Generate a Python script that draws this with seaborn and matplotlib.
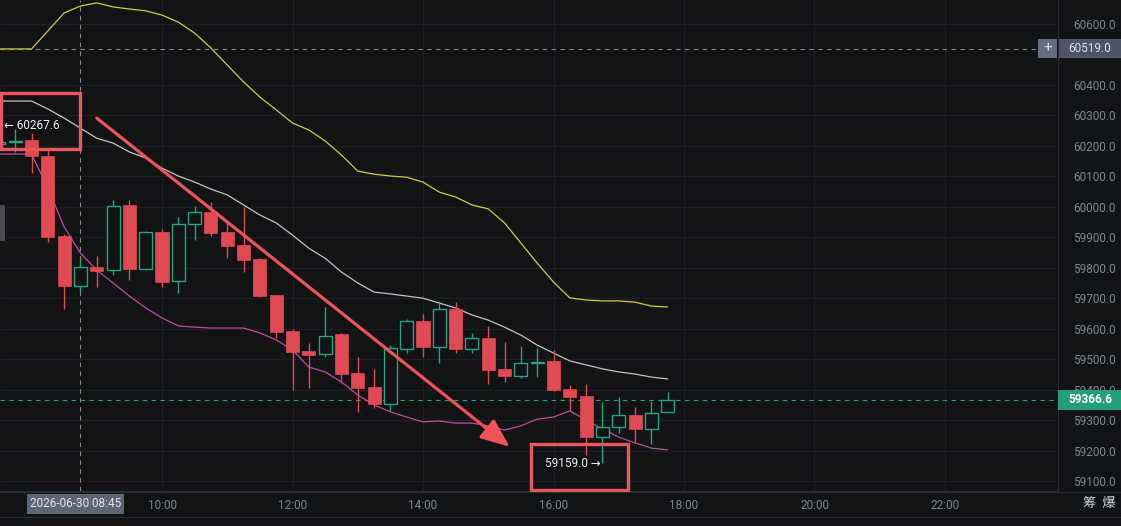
import matplotlib
matplotlib.use('Agg')
import matplotlib.pyplot as plt
from matplotlib.patches import Rectangle
from matplotlib.lines import Line2D
import pandas as pd
import seaborn as sns

# 15-minute candles
times = ['07:30', '07:45', '08:00', '08:15', '08:30', '08:45', '09:00', '09:15', '09:30', '09:45',
         '10:00', '10:15', '10:30', '10:45', '11:00', '11:15', '11:30', '11:45', '12:00', '12:15',
         '12:30', '12:45', '13:00', '13:15', '13:30', '13:45', '14:00', '14:15', '14:30', '14:45',
         '15:00', '15:15', '15:30', '15:45', '16:00', '16:15', '16:30', '16:45', '17:00', '17:15',
         '17:30', '17:45']
opens = [60207, 60212, 60219, 60167, 59904, 59740, 59802, 59792, 60006, 59796,
         59917, 59756, 59943, 59983, 59917, 59875, 59829, 59710, 59592, 59527,
         59517, 59582, 59454, 59408, 59353, 59533, 59625, 59540, 59665, 59533,
         59569, 59468, 59445, 59487, 59494, 59402, 59379, 59244, 59277, 59317,
         59271, 59326]
highs = [60230, 60255, 60242, 60186, 59910, 59832, 59838, 60022, 60022, 59920,
         59927, 59966, 60003, 60016, 59947, 59999, 59832, 59712, 59599, 59553,
         59671, 59585, 59507, 59468, 59546, 59632, 59648, 59691, 59687, 59586,
         59609, 59556, 59543, 59536, 59530, 59415, 59418, 59359, 59376, 59343,
         59363, 59392]
lows = [60195, 60180, 60111, 59884, 59665, 59720, 59737, 59776, 59760, 59793,
        59737, 59717, 59891, 59904, 59832, 59786, 59705, 59569, 59399, 59405,
        59507, 59422, 59326, 59340, 59330, 59520, 59507, 59487, 59520, 59520,
        59418, 59425, 59438, 59441, 59395, 59330, 59185, 59159, 59258, 59228,
        59221, 59326]
closes = [60214, 60216, 60167, 59901, 59740, 59802, 59789, 60003, 59796, 59917,
          59753, 59943, 59983, 59914, 59871, 59825, 59707, 59589, 59523, 59514,
          59576, 59451, 59405, 59353, 59537, 59625, 59540, 59665, 59533, 59569,
          59464, 59445, 59487, 59490, 59399, 59376, 59244, 59277, 59317, 59271,
          59323, 59366.6]

band_upper = [60518, 60518, 60518, 60577, 60636, 60659, 60669, 60656, 60649, 60643,
              60629, 60606, 60570, 60521, 60465, 60410, 60360, 60318, 60275, 60252,
              60216, 60170, 60117, 60107, 60101, 60097, 60081, 60048, 60032, 60006,
              59993, 59947, 59881, 59815, 59753, 59701, 59694, 59691, 59691, 59687,
              59674, 59671]
band_mid = [60347, 60347, 60347, 60321, 60291, 60258, 60225, 60209, 60180, 60160,
            60127, 60101, 60081, 60058, 60039, 60006, 59973, 59947, 59907, 59864,
            59831, 59786, 59750, 59720, 59714, 59707, 59700, 59684, 59668, 59645,
            59628, 59605, 59579, 59546, 59520, 59494, 59481, 59468, 59458, 59451,
            59441, 59435]
band_lower = [60173, 60173, 60173, 60062, 59934, 59848, 59792, 59750, 59707, 59668,
              59635, 59609, 59605, 59602, 59602, 59602, 59586, 59563, 59530, 59474,
              59458, 59425, 59382, 59350, 59327, 59310, 59294, 59297, 59290, 59290,
              59281, 59267, 59281, 59303, 59310, 59330, 59300, 59271, 59244, 59225,
              59208, 59202]

hour_ticks = [10, 12, 14, 16, 18, 20, 22]
price_ticks = [59100, 59200, 59300, 59400, 59500, 59600, 59700, 59800, 59900,
               60000, 60100, 60200, 60300, 60400, 60600]
last_price = 59366.6
cross_price = 60519.0
cross_label = '2026-06-30 08:45'
cross_hour = 8.75
high_mark = 60267.6
low_mark = 59159.0
low_hour = 16.75
arrow_from = (9.0, 60291)
arrow_to = (15.33, 59212)

BG = '#121314'
GRID = '#1e2023'
RED = '#e04a52'
GREEN = '#22a77e'
TXT = '#80858e'

sns.set_style('dark', rc={'axes.facecolor': BG, 'figure.facecolor': BG})
plt.rcParams['font.family'] = ['Roboto', 'DejaVu Sans']

W, H = 1121, 526
fig = plt.figure(figsize=(W / 100, H / 100), dpi=100)
ax = fig.add_axes([0, 35 / H, 1058 / W, 491 / H])
ax.set_facecolor(BG)

hours = [int(t[:2]) + int(t[3:]) / 60 for t in times]
df = pd.DataFrame({'hour': hours, 'open': opens, 'high': highs, 'low': lows, 'close': closes,
                   'upper': band_upper, 'mid': band_mid, 'lower': band_lower})

# bands
sns.lineplot(data=df, x='hour', y='upper', ax=ax, color='#cfcf3a', lw=0.9, zorder=2)
sns.lineplot(data=df, x='hour', y='mid', ax=ax, color='#c4c4c4', lw=0.9, zorder=2)
sns.lineplot(data=df, x='hour', y='lower', ax=ax, color='#bf4ca2', lw=0.9, zorder=2)

# candles
bw = 0.2
up = df[df.close >= df.open]
dn = df[df.close < df.open]
ax.vlines(up.hour, up.low, up.high, color=GREEN, lw=1, zorder=3)
ax.vlines(dn.hour, dn.low, dn.high, color=RED, lw=1, zorder=3)
ax.bar(up.hour, (up.close - up.open).clip(lower=3), bottom=up.open, width=bw,
       facecolor=BG, edgecolor=GREEN, lw=1, zorder=4)
ax.bar(dn.hour, (dn.open - dn.close).clip(lower=3), bottom=dn.close, width=bw,
       facecolor=RED, edgecolor=RED, lw=0.5, zorder=4)

ax.set_xlim(7.517, 23.732)
ax.set_ylim(59067.2, 60678.6)
ax.set_xticks(hour_ticks)
ax.set_xticklabels([f'{h}:00' for h in hour_ticks])
ax.set_yticks(price_ticks)
ax.set_yticklabels([f'{p:.1f}' for p in price_ticks])
ax.yaxis.tick_right()
ax.tick_params(axis='y', length=0, pad=11, labelcolor=TXT, labelsize=8.5)
ax.tick_params(axis='x', length=0, pad=6, labelcolor=TXT, labelsize=8.5)
ax.grid(True, color=GRID, lw=0.8)
ax.set_xlabel('')
ax.set_ylabel('')
for s in ['top', 'left']:
    ax.spines[s].set_visible(False)
for s in ['right', 'bottom']:
    ax.spines[s].set_color('#2a2c30')
    ax.spines[s].set_linewidth(0.8)

# crosshair and last price lines
ax.axhline(cross_price, color='#8a8a8a', lw=0.8, ls=(0, (4, 4)), zorder=1)
ax.axvline(cross_hour, color='#8a8a8a', lw=0.8, ls=(0, (4, 4)), zorder=1)
ax.axhline(last_price, color=GREEN, lw=0.8, ls=(0, (4, 4)), zorder=1)

# trend arrow
ax.annotate('', xy=arrow_to, xytext=arrow_from,
            arrowprops=dict(arrowstyle='-|>,head_length=1.1,head_width=0.45', color='#ef5257',
                            lw=2.3, shrinkA=0, shrinkB=0, mutation_scale=16), zorder=6)

# highlight boxes and extreme labels
ax.add_patch(Rectangle((0.0012, 0.6965), 0.0746, 0.1141, transform=ax.transAxes, fill=False,
                       edgecolor='#e8585c', lw=2.4, clip_on=False, zorder=7))
ax.add_patch(Rectangle((0.5019, 0.003), 0.0917, 0.0927, transform=ax.transAxes, fill=False,
                       edgecolor='#e8585c', lw=2.4, clip_on=False, zorder=7))
ax.text(0.004, high_mark, f'\u2190 {high_mark:.1f}', transform=ax.get_yaxis_transform(),
        color='#f2f2f2', fontsize=8.5, va='center', ha='left', zorder=8)
ax.text(low_hour - 0.03, low_mark, f'{low_mark:.1f} \u2192', color='#f2f2f2', fontsize=8.5,
        va='center', ha='right', zorder=8)


def fig_y(price):
    return fig.transFigure.inverted().transform(ax.transData.transform((10, price)))[1]


# right axis labels
yl = fig_y(last_price)
fig.add_artist(Rectangle((1058 / W, yl - 10 / H), 63 / W, 20 / H, transform=fig.transFigure,
                         facecolor='#23a07b', edgecolor='none'))
fig.text(1090 / W, yl, f'{last_price:.1f}', color='#ffffff', fontsize=8.5, ha='center',
         va='center', fontweight='bold')
yc = fig_y(cross_price)
fig.add_artist(Rectangle((1038 / W, yc - 9.5 / H), 19 / W, 19 / H, transform=fig.transFigure,
                         facecolor='#646e7c', edgecolor='none'))
fig.text(1047.5 / W, yc, '+', color='#dde2e8', fontsize=11, ha='center', va='center')
fig.add_artist(Rectangle((1059 / W, yc - 9.5 / H), 62 / W, 19 / H, transform=fig.transFigure,
                         facecolor='#4c5664', edgecolor='none'))
fig.text(1090 / W, yc, f'{cross_price:.1f}', color='#dde2e8', fontsize=8.5, ha='center',
         va='center')

# bottom axis labels
fig.add_artist(Rectangle((27 / W, 1 - 514 / H), 97 / W, 20 / H, transform=fig.transFigure,
                         facecolor='#5b6575', edgecolor='none'))
fig.text(75.5 / W, 1 - 503.5 / H, cross_label, color='#e3e6ea', fontsize=8.5, ha='center',
         va='center')
fig.text(1099 / W, 1 - 504 / H, '筹  爆', color='#cfd3d8', fontsize=9.5, ha='center',
         va='center', family=['Noto Sans CJK SC', 'DejaVu Sans'])
fig.add_artist(Line2D([0, 1], [1 - 492 / H, 1 - 492 / H], transform=fig.transFigure,
                      color='#2a2c30', lw=0.8))
fig.add_artist(Line2D([0, 1], [1 - 517 / H, 1 - 517 / H], transform=fig.transFigure,
                      color='#2a2c30', lw=0.8))

# left side handle
fig.add_artist(Rectangle((0, 1 - 241 / H), 5 / W, 36 / H, transform=fig.transFigure,
                         facecolor='#4a4c50', edgecolor='none'))

fig.savefig('out.png', dpi=100, facecolor=BG)
